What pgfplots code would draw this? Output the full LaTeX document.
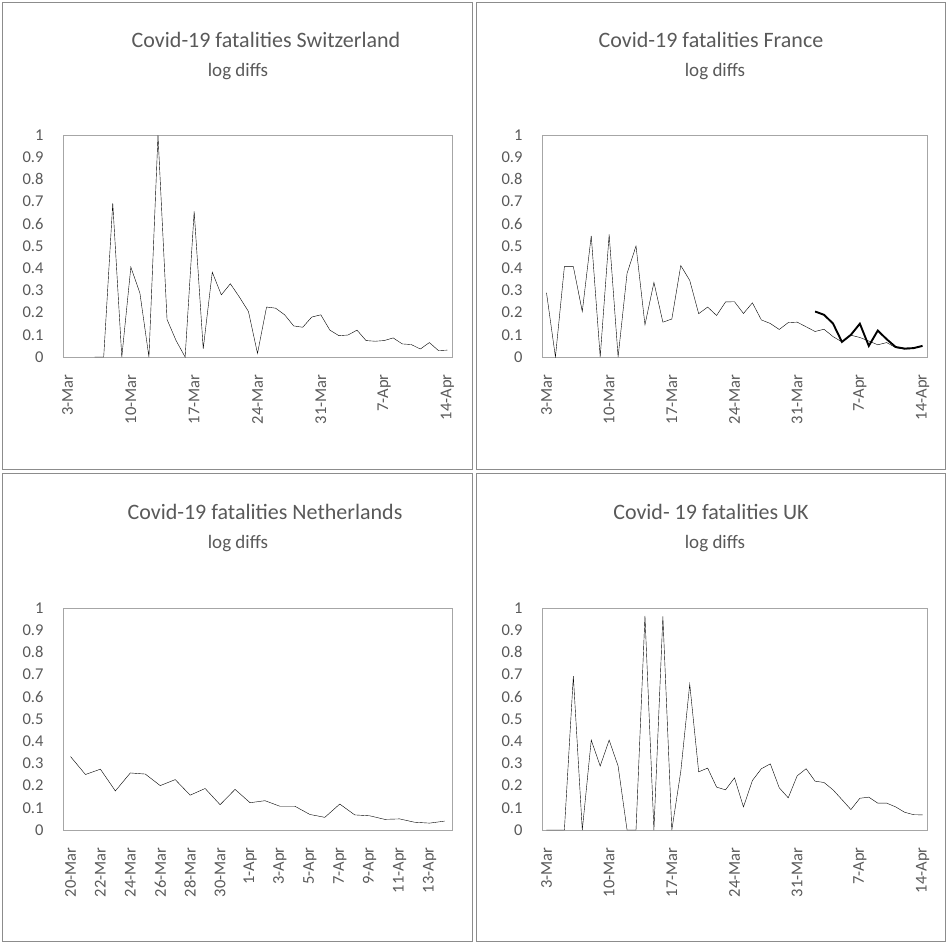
\documentclass[border=0pt]{standalone}
\usepackage{pgfplots}
\pgfplotsset{compat=1.18}
\usepackage{fontspec}
\setmainfont{Carlito}
\definecolor{txt}{HTML}{595959}
\definecolor{frm}{HTML}{A6A6A6}
\definecolor{pbd}{HTML}{8C8C8C}

\pgfplotstableread{
d v
3 0
4 0
5 0.693
6 0
7 0.405
8 0.288
9 0
10 1.0
11 0.169
12 0.074
13 0
14 0.656
15 0.037
16 0.382
17 0.28
18 0.33
19 0.27
20 0.205
21 0.016
22 0.225
23 0.22
24 0.19
25 0.14
26 0.134
27 0.18
28 0.19
29 0.121
30 0.096
31 0.099
32 0.121
33 0.074
34 0.071
35 0.074
36 0.086
37 0.059
38 0.056
39 0.036
40 0.065
41 0.029
42 0.031
}\swiss

\pgfplotstableread{
d v
0 0.29
1 0
2 0.407
3 0.407
4 0.205
5 0.546
6 0
7 0.552
8 0
9 0.377
10 0.5
11 0.145
12 0.336
13 0.157
14 0.171
15 0.412
16 0.345
17 0.195
18 0.225
19 0.187
20 0.248
21 0.249
22 0.196
23 0.244
24 0.167
25 0.151
26 0.124
27 0.155
28 0.157
29 0.136
30 0.115
31 0.125
32 0.092
33 0.068
34 0.098
35 0.088
36 0.072
37 0.055
38 0.065
39 0.042
40 0.035
41 0.038
42 0.05
}\france

\pgfplotstableread{
d v
30 0.205
31 0.19
32 0.151
33 0.068
34 0.1
35 0.15
36 0.05
37 0.119
38 0.08
39 0.045
40 0.038
41 0.04
42 0.05
}\francetwo

\pgfplotstableread{
d v
0 0.331
1 0.25
2 0.274
3 0.176
4 0.257
5 0.252
6 0.2
7 0.227
8 0.157
9 0.187
10 0.114
11 0.183
12 0.123
13 0.132
14 0.107
15 0.107
16 0.07
17 0.057
18 0.117
19 0.068
20 0.064
21 0.048
22 0.05
23 0.035
24 0.031
25 0.04
}\nether

\pgfplotstableread{
d v
0 0
1 0
2 0
3 0.693
4 0
5 0.405
6 0.288
7 0.405
8 0.288
9 0
10 0
11 0.965
12 0
13 0.962
14 0
15 0.264
16 0.657
17 0.262
18 0.279
19 0.193
20 0.181
21 0.235
22 0.104
23 0.223
24 0.276
25 0.298
26 0.19
27 0.145
28 0.244
29 0.276
30 0.22
31 0.214
32 0.181
33 0.137
34 0.092
35 0.143
36 0.148
37 0.121
38 0.121
39 0.104
40 0.08
41 0.069
42 0.068
}\uk

\pgfplotsset{covid/.style={
  scale only axis, height=222pt,
  anchor=south west,
  ymin=0, ymax=1,
  ytick={0,0.1,0.2,0.3,0.4,0.5,0.6,0.7,0.8,0.9,1},
  yticklabels={0,0.1,0.2,0.3,0.4,0.5,0.6,0.7,0.8,0.9,1},
  axis line style={frm, line width=0.75pt},
  major tick length=0pt,
  tick label style={font=\fontsize{16.5}{18}\selectfont, text=txt},
  xticklabel style={rotate=90, anchor=east},
  xticklabel shift=14pt,
  yticklabel shift=16pt,
  clip=true,
  cycle list={{black, line width=1pt, mark=none}},
},
datesA/.style={xmin=-0.5, xmax=42.5, xtick={0,7,14,21,28,35,42},
  xticklabels={3-Mar,10-Mar,17-Mar,24-Mar,31-Mar,7-Apr,14-Apr}}
}

\begin{document}
\begin{tikzpicture}
\useasboundingbox (0,0) rectangle (948pt,-944pt);
\draw[pbd, line width=0.75pt] (2.5pt,-2.5pt) rectangle (472pt,-469pt);
\draw[pbd, line width=0.75pt] (476pt,-2.5pt) rectangle (945.5pt,-469pt);
\draw[pbd, line width=0.75pt] (2.5pt,-473pt) rectangle (472pt,-941.5pt);
\draw[pbd, line width=0.75pt] (476pt,-473pt) rectangle (945.5pt,-941.5pt);

\node[text=txt, font=\fontsize{22}{26}\selectfont] at (266pt,-40pt) {Covid-19 fatalities Switzerland};
\node[text=txt, font=\fontsize{19}{22}\selectfont] at (238pt,-72pt) {log diffs};
\node[text=txt, font=\fontsize{22}{26}\selectfont] at (711pt,-40pt) {Covid-19 fatalities France};
\node[text=txt, font=\fontsize{19}{22}\selectfont] at (715pt,-72pt) {log diffs};
\node[text=txt, font=\fontsize{22}{26}\selectfont] at (265pt,-512pt) {Covid-19 fatalities Netherlands};
\node[text=txt, font=\fontsize{19}{22}\selectfont] at (238pt,-544pt) {log diffs};
\node[text=txt, font=\fontsize{22}{26}\selectfont] at (711pt,-512pt) {Covid- 19 fatalities UK};
\node[text=txt, font=\fontsize{19}{22}\selectfont] at (715pt,-544pt) {log diffs};

\begin{axis}[covid, datesA, width=389pt, at={(63pt,-357pt)}]
\addplot table[x=d,y=v] {\swiss};
\end{axis}

\begin{axis}[covid, datesA, width=385pt, at={(542pt,-357pt)}]
\addplot table[x=d,y=v] {\france};
\addplot[black, line width=1.9pt, mark=none] table[x=d,y=v] {\francetwo};
\end{axis}

\begin{axis}[covid, width=389pt, at={(63pt,-830pt)},
  xmin=-0.5, xmax=25.5, xtick={0,2,...,24},
  xticklabels={20-Mar,22-Mar,24-Mar,26-Mar,28-Mar,30-Mar,1-Apr,3-Apr,5-Apr,7-Apr,9-Apr,11-Apr,13-Apr}]
\addplot table[x=d,y=v] {\nether};
\end{axis}

\begin{axis}[covid, datesA, width=385pt, at={(542pt,-830pt)}]
\addplot table[x=d,y=v] {\uk};
\end{axis}
\end{tikzpicture}
\end{document}
